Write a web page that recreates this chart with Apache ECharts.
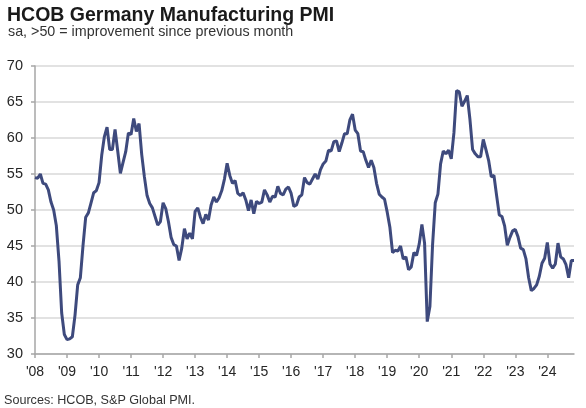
<!DOCTYPE html>
<html>
<head>
<meta charset="utf-8">
<title>HCOB Germany Manufacturing PMI</title>
<script src="https://cdn.jsdelivr.net/npm/echarts@6/dist/echarts.min.js"></script>
<style>
  html, body { margin: 0; padding: 0; background: #fff; }
  #chart { width: 586px; height: 408px; }
</style>
</head>
<body>
<div id="chart"></div>
<script>
// monthly readings, Jan..Dec (2024 runs to Nov)
const pmi2008 = [54.5, 54.4, 55.0, 53.7, 53.6, 52.8, 51.1, 50.0, 47.8, 42.9, 35.7, 32.7]
const pmi2009 = [32.0, 32.1, 32.4, 35.4, 39.6, 40.6, 45.1, 49.0, 49.6, 51.0, 52.4, 52.7]
const pmi2010 = [53.8, 57.6, 60.2, 61.5, 58.4, 58.4, 61.2, 58.2, 55.1, 56.6, 58.1, 60.7]
const pmi2011 = [60.5, 62.7, 60.9, 62.0, 57.7, 54.6, 52.0, 50.9, 50.3, 49.1, 47.9, 48.4]
const pmi2012 = [51.0, 50.2, 48.4, 46.2, 45.2, 45.0, 43.0, 44.7, 47.4, 46.0, 46.8, 46.0]
const pmi2013 = [49.8, 50.3, 49.0, 48.1, 49.4, 48.6, 50.7, 51.8, 51.1, 51.7, 52.7, 54.3]
const pmi2014 = [56.5, 54.8, 53.7, 54.1, 52.3, 52.0, 52.4, 51.4, 49.9, 51.4, 49.5, 51.2]
const pmi2015 = [50.9, 51.1, 52.8, 52.1, 51.1, 51.9, 51.8, 53.3, 52.3, 52.1, 52.9, 53.2]
const pmi2016 = [52.3, 50.5, 50.7, 51.8, 52.1, 54.5, 53.8, 53.6, 54.3, 55.0, 54.3, 55.6]
const pmi2017 = [56.4, 56.8, 58.3, 58.2, 59.5, 59.6, 58.1, 59.3, 60.6, 60.6, 62.5, 63.3]
const pmi2018 = [61.1, 60.6, 58.2, 58.1, 56.9, 55.9, 56.9, 55.9, 53.7, 52.2, 51.8, 51.5]
const pmi2019 = [49.7, 47.6, 44.1, 44.4, 44.3, 45.0, 43.2, 43.5, 41.7, 42.1, 44.1, 43.7]
const pmi2020 = [45.3, 48.0, 45.4, 34.5, 36.6, 45.2, 51.0, 52.2, 56.4, 58.2, 57.8, 58.3]
const pmi2021 = [57.1, 60.7, 66.6, 66.4, 64.4, 65.1, 65.9, 62.6, 58.4, 57.8, 57.4, 57.4]
const pmi2022 = [59.8, 58.4, 56.9, 54.6, 54.8, 52.0, 49.3, 49.1, 47.8, 45.1, 46.2, 47.1]
const pmi2023 = [47.3, 46.3, 44.7, 44.5, 43.2, 40.6, 38.8, 39.1, 39.6, 40.8, 42.6, 43.3]
const pmi2024 = [45.5, 42.5, 41.9, 42.5, 45.4, 43.5, 43.2, 42.4, 40.6, 43.0, 43.0]

const years = [2008, 2009, 2010, 2011, 2012, 2013, 2014, 2015, 2016, 2017, 2018, 2019, 2020, 2021, 2022, 2023, 2024]
const yTicks = [30, 35, 40, 45, 50, 55, 60, 65, 70]

const chartTitle = 'HCOB Germany Manufacturing PMI'
const chartSubtitle = 'sa, >50 = improvement since previous month'
const sourceNote = 'Sources: HCOB, S&P Global PMI.'

const pmi = [].concat(pmi2008, pmi2009, pmi2010, pmi2011, pmi2012, pmi2013, pmi2014,
  pmi2015, pmi2016, pmi2017, pmi2018, pmi2019, pmi2020, pmi2021, pmi2022, pmi2023, pmi2024)

// one category per month, named like 2008-01
const months = []
years.forEach(y => {
  for (let m = 1; m <= 12; m++) months.push(y + '-' + String(m).padStart(2, '0'))
})
months.length = pmi.length

const font = '"Liberation Sans", Arial, sans-serif'
const isJan = idx => idx % 12 === 0

const chart = echarts.init(document.getElementById('chart'), null, { renderer: 'canvas' })

chart.setOption({
  animation: false,
  backgroundColor: '#fff',
  grid: { left: 35, right: 12, top: 66, bottom: 54 },
  graphic: [
    {
      type: 'text', left: 7, top: 6,
      style: { text: chartTitle, font: 'bold 19.5px ' + font, fill: '#1a1a1a' }
    },
    {
      type: 'text', left: 8, top: 25,
      style: { text: chartSubtitle, font: '14.3px ' + font, fill: '#333' }
    },
    {
      type: 'text', left: 4, top: 394,
      style: { text: sourceNote, font: '12.6px ' + font, fill: '#333' }
    }
  ],
  xAxis: {
    type: 'category',
    data: months,
    boundaryGap: false,
    axisLine: { lineStyle: { color: '#a6a6a6', width: 1.5 } },
    axisTick: { interval: isJan, length: 4, lineStyle: { color: '#a6a6a6', width: 1.5 } },
    axisLabel: {
      interval: isJan,
      margin: 11,
      color: '#262626',
      fontFamily: font,
      fontSize: 14,
      formatter: v => "'" + v.slice(2, 4)
    },
    splitLine: { show: false }
  },
  yAxis: {
    type: 'value',
    min: yTicks[0],
    max: yTicks[yTicks.length - 1],
    interval: yTicks[1] - yTicks[0],
    axisLine: { show: true, lineStyle: { color: '#a6a6a6', width: 1.5 } },
    axisTick: { show: true, length: 4, lineStyle: { color: '#a6a6a6', width: 1.5 } },
    axisLabel: { margin: 12, color: '#262626', fontFamily: font, fontSize: 14.5 },
    splitLine: { lineStyle: { color: '#d9d9d9', width: 1.5 } }
  },
  series: [{
    type: 'line',
    data: pmi,
    showSymbol: false,
    symbol: 'none',
    lineStyle: { color: '#3e4a7d', width: 3 },
    z: 3
  }]
})
</script>
</body>
</html>
